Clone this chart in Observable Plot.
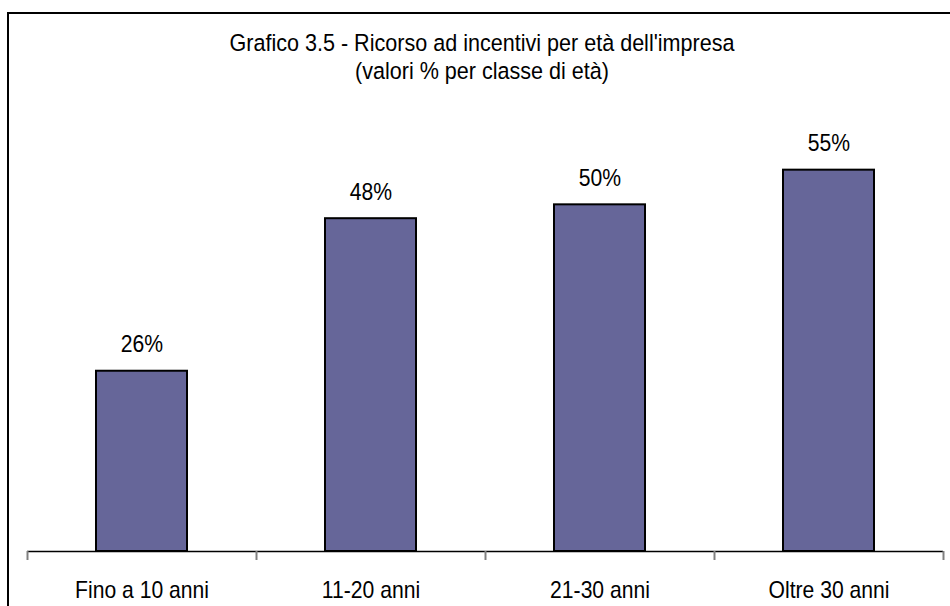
<!DOCTYPE html>
<html>
<head>
<meta charset="utf-8">
<script src="https://cdn.jsdelivr.net/npm/d3@7"></script>
<script src="https://cdn.jsdelivr.net/npm/@observablehq/plot@0.6"></script>
<style>
  html, body { margin: 0; padding: 0; background: #fff; }
  #wrap { position: relative; width: 950px; height: 606px; overflow: hidden; background: #fff; }
  #frame { position: absolute; left: 7px; top: 12px; width: 1000px; height: 700px;
           border-left: 2px solid #000; border-top: 2px solid #000; }
  #title { position: absolute; left: 0; top: 29px; width: 964px; text-align: center;
           font-family: "Liberation Sans", Arial, sans-serif; font-size: 24.5px; line-height: 28px;
           color: #000; transform: scaleX(0.88); transform-origin: 482px 0; }
  #chart { position: absolute; left: 0; top: 0; }
</style>
</head>
<body>
<div id="wrap">
  <div id="frame"></div>
  <div id="title">Grafico 3.5 - Ricorso ad incentivi per età dell'impresa<br>(valori % per classe di età)</div>
  <div id="chart"></div>
</div>
<script>
const categories = ["Fino a 10 anni", "11-20 anni", "21-30 anni", "Oltre 30 anni"];
const values = [26, 48, 50, 55];
const valueLabels = ["26%", "48%", "50%", "55%"];

const data = categories.map((c, i) => ({ c, i, v: values[i], label: valueLabels[i] }));
const boundaries = d3.range(categories.length + 1);

const chart = Plot.plot({
  width: 950,
  height: 606,
  marginLeft: 27,
  marginRight: 7,
  marginTop: 135,
  marginBottom: 55,
  x: { domain: [0, categories.length], axis: null, label: null },
  y: { domain: [0, 60], axis: null, label: null },
  style: { fontFamily: "'Liberation Sans', Arial, sans-serif", background: "transparent", overflow: "visible", color: "#000" },
  marks: [
    Plot.rectY(data, { x1: "i", x2: d => d.i + 1, y: "v", fill: "#666699", stroke: "#000", strokeWidth: 2, insetLeft: 69, insetRight: 69 }),
    Plot.ruleY([0], { stroke: "#000", strokeWidth: 1.5 }),
    Plot.axisX({ ticks: boundaries, tickFormat: () => "", label: null, tickSize: 9, stroke: "#808080", strokeWidth: 2, strokeOpacity: 1 }),
    Plot.text(data, { x: d => d.i + 0.5, y: "v", text: "label", lineAnchor: "bottom", dy: -19, fontSize: 24, fill: "#000" }),
    Plot.text(data, { x: d => d.i + 0.5, y: () => 0, text: "c", lineAnchor: "bottom", dy: 46, fontSize: 24, fill: "#000" })
  ]
});

document.getElementById("chart").append(chart);

d3.select(chart).selectAll("text").each(function () {
  if (!this.textContent) return;
  const L = this.getComputedTextLength();
  if (L > 0) {
    this.setAttribute("textLength", (L * 0.88).toFixed(1));
    this.setAttribute("lengthAdjust", "spacingAndGlyphs");
  }
});
</script>
</body>
</html>
